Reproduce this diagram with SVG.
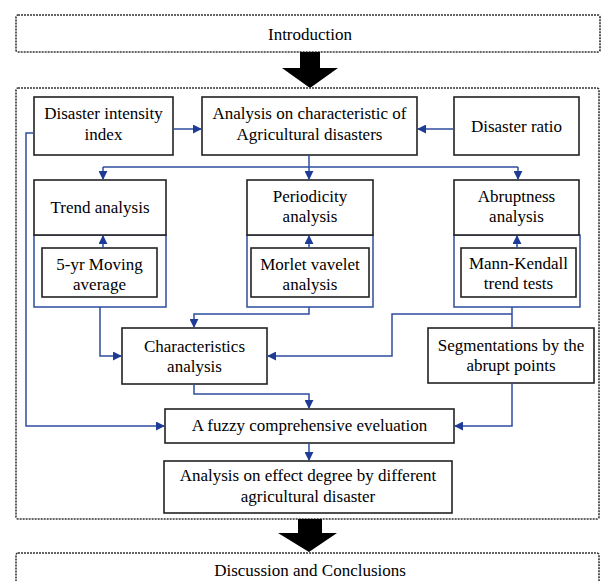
<svg xmlns="http://www.w3.org/2000/svg" width="603" height="581" viewBox="0 0 603 581" font-family="'Liberation Serif', 'Times New Roman', serif">
<defs>
<style>
.dash{fill:none;stroke:#333;stroke-width:1.6;stroke-dasharray:2 1}
.box{fill:#fff;stroke:#222;stroke-width:1.6}
.inner{fill:none;stroke:#222;stroke-width:1.6}
.blue{fill:none;stroke:#2c4c9e;stroke-width:1.5}
.c{fill:none;stroke:#2c4c9e;stroke-width:1.5;marker-end:url(#ah)}
text{font-family:'Liberation Serif','Times New Roman',serif}
.t{font-size:17px;fill:#000;text-anchor:middle}
.big{fill:#000}
</style>
<marker id="ah" viewBox="0 0 10 10" refX="9" refY="5" markerWidth="6" markerHeight="6" markerUnits="strokeWidth" orient="auto">
<path d="M0,0 L10,5 L0,10 z" fill="#1e3c96"/>
</marker>
</defs>
<rect width="603" height="581" fill="#fff"/>

<g id="introduction">
<rect class="dash" x="16" y="15" width="584" height="37" rx="2"/>
<text class="t" x="310" y="40">Introduction</text>
</g>
<g id="arrow-top">
<polygon class="big" points="300,52 320,52 320,68 338,68 310,88 282,68 300,68"/>
</g>
<g id="main-frame">
<rect class="dash" x="16" y="88" width="583" height="431" rx="2"/>
</g>

<g id="disaster-intensity">
<rect class="box" x="34" y="97" width="139" height="58"/>
<text class="t" x="103.5" y="119">Disaster intensity</text>
<text class="t" x="103.5" y="140">index</text>
</g>
<g id="analysis-characteristic">
<rect class="box" x="202" y="97" width="215" height="58"/>
<text class="t" x="309.5" y="119">Analysis on characteristic of</text>
<text class="t" x="309.5" y="140">Agricultural disasters</text>
</g>
<g id="disaster-ratio">
<rect class="box" x="454" y="97" width="125" height="58"/>
<text class="t" x="516.5" y="132">Disaster ratio</text>
</g>

<g id="trend">
<rect class="blue" x="34" y="235" width="132" height="72"/>
<rect class="box" x="34" y="180" width="132" height="55"/>
<text class="t" x="100" y="213">Trend analysis</text>
</g>
<g id="moving-average">
<rect class="inner" x="42" y="248" width="115" height="49"/>
<text class="t" x="99.5" y="270">5-yr Moving</text>
<text class="t" x="99.5" y="290">average</text>
</g>

<g id="periodicity">
<rect class="blue" x="247" y="235" width="126" height="72"/>
<rect class="box" x="247" y="180" width="126" height="55"/>
<text class="t" x="310" y="202">Periodicity</text>
<text class="t" x="310" y="222">analysis</text>
</g>
<g id="morlet">
<rect class="inner" x="251" y="248" width="118" height="49"/>
<text class="t" x="310" y="270">Morlet vavelet</text>
<text class="t" x="310" y="290">analysis</text>
</g>

<g id="abruptness">
<rect class="blue" x="454" y="235" width="126" height="72"/>
<rect class="box" x="454" y="180" width="125" height="55"/>
<text class="t" x="516.5" y="202">Abruptness</text>
<text class="t" x="516.5" y="222">analysis</text>
</g>
<g id="mann-kendall">
<rect class="inner" x="461" y="248" width="115" height="49"/>
<text class="t" x="518.5" y="269">Mann-Kendall</text>
<text class="t" x="518.5" y="289">trend tests</text>
</g>

<g id="characteristics">
<rect class="box" x="122" y="328" width="145" height="56"/>
<text class="t" x="194.5" y="352">Characteristics</text>
<text class="t" x="194.5" y="372">analysis</text>
</g>
<g id="segmentations">
<rect class="box" x="428" y="328" width="166" height="55"/>
<text class="t" x="511" y="351">Segmentations by the</text>
<text class="t" x="511" y="371">abrupt points</text>
</g>
<g id="fuzzy">
<rect class="box" x="165" y="409" width="289" height="34"/>
<text class="t" x="309.5" y="431">A fuzzy comprehensive eveluation</text>
</g>
<g id="effect-degree">
<rect class="box" x="164" y="461" width="288" height="52"/>
<text class="t" x="308" y="481">Analysis on effect degree by different</text>
<text class="t" x="308" y="502">agricultural disaster</text>
</g>

<g id="arrow-bottom">
<polygon class="big" points="298,519 322,519 322,533 337,533 309,552 278,533 298,533"/>
</g>
<g id="discussion">
<rect class="dash" x="16" y="553" width="583" height="40" rx="2"/>
<text class="t" x="310" y="576">Discussion and Conclusions</text>
</g>

<g id="connectors">
<path class="c" d="M173,129 H201"/>
<path class="c" d="M454,129 H418"/>
<path class="c" d="M309,155 V179"/>
<path class="blue" d="M103,167 H518"/>
<path class="c" d="M103,167 V179"/>
<path class="c" d="M518,167 V179"/>
<path class="c" d="M103,248 V236"/>
<path class="c" d="M309,248 V236"/>
<path class="c" d="M517,248 V236"/>
<path class="c" d="M100,307 V356 H121"/>
<path class="c" d="M309,307 V314 H194 V327"/>
<path class="blue" d="M512,307 V328"/>
<path class="c" d="M512,314 H392 V356 H268"/>
<path class="c" d="M194,384 V394 H309 V408"/>
<path class="c" d="M512,383 V426 H455"/>
<path class="c" d="M34,133 H26 V426 H164"/>
<path class="c" d="M309,443 V460"/>
</g>
</svg>
